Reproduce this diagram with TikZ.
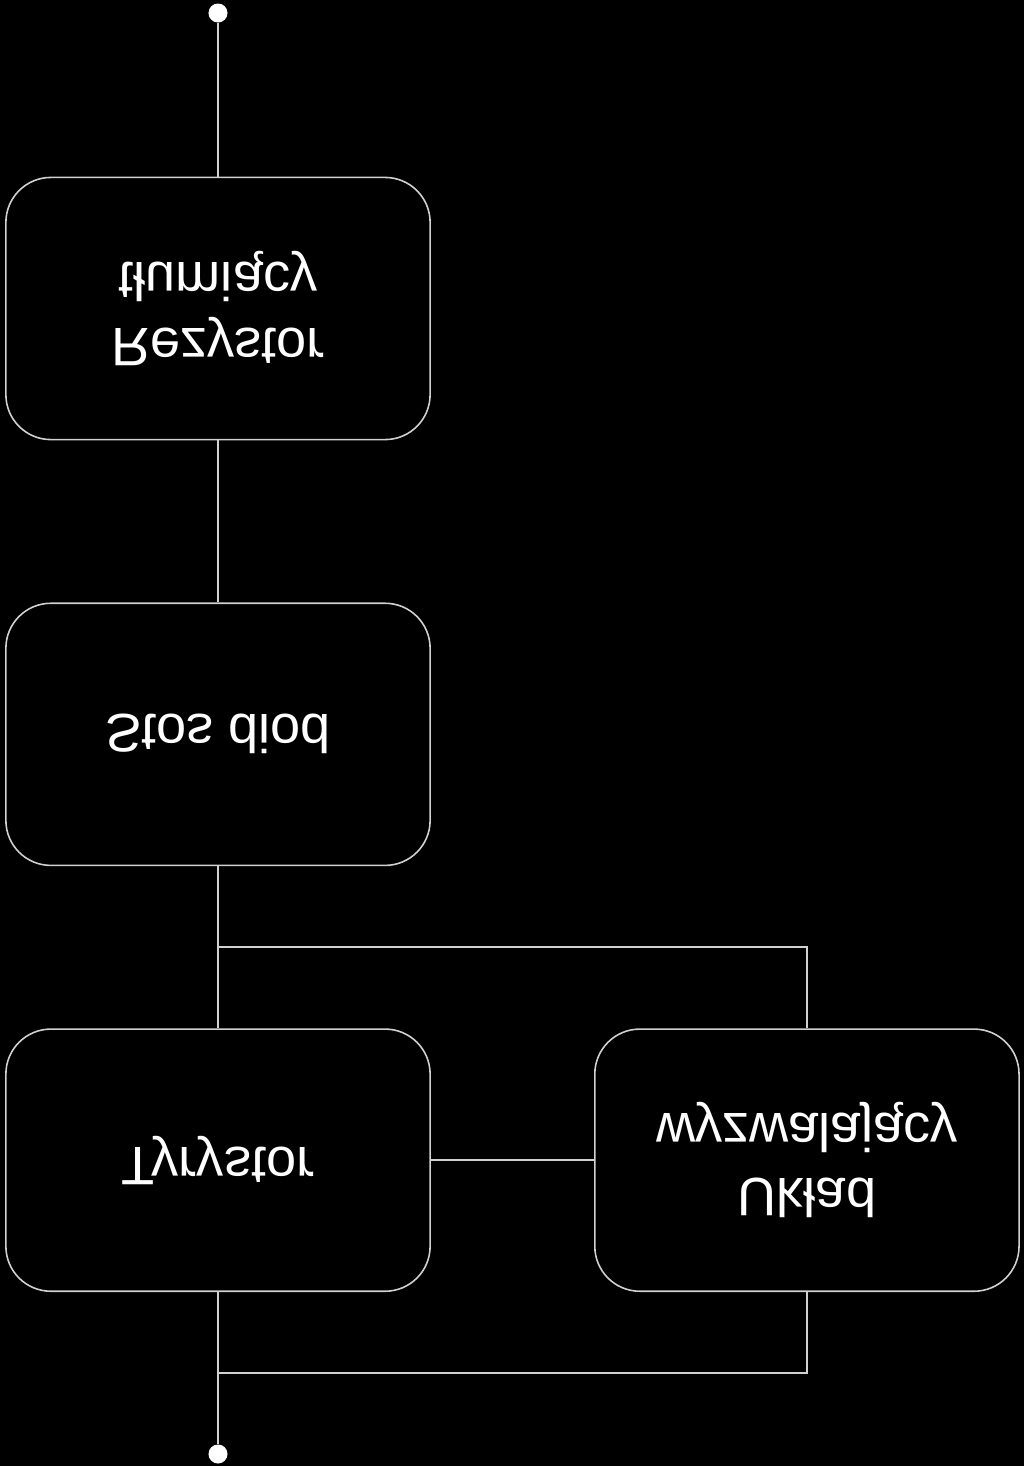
\documentclass[tikz,border=0pt]{standalone}
\usepackage{fontspec}
\setmainfont{Liberation Sans}
\usetikzlibrary{positioning, calc}

\definecolor{linia}{gray}{0.82}

\tikzset{
    blok/.style={draw=linia, line width=0.45pt, rounded corners=0.45cm, minimum width=4.24cm, minimum height=2.62cm},
    napis/.style={text=white, align=center, yscale=-1, font=\fontsize{15.4}{18.5}\selectfont},
    przewod/.style={draw=linia, line width=0.45pt},
    zacisk/.style={circle, fill=white, inner sep=0pt, minimum size=0.19cm}
}

\begin{document}
\begin{tikzpicture}[x=0.01cm, y=-0.01cm]

    % tlo
    \fill[black] (0,0) rectangle (1024,1466);
    \useasboundingbox (0,0) rectangle (1024,1466);

    % 1. bloki glowne (galaz pionowa)
    \node[blok] (rez) at (218,308.5) {};
    \node[blok, below=1.62cm of rez] (stos) {};
    \node[blok, below=1.62cm of stos] (tyr) {};
    % blok wyzwalania obok tyrystora
    \node[blok, right=1.63cm of tyr] (wyzw) {};

    % 2. napisy (odbite w pionie)
    \node[napis] (rez_t)  at (rez)  {Rezystor\\tłumiący};
    \node[napis] (stos_t) at (stos) {Stos diod};
    \node[napis] (tyr_t)  at (tyr)  {Tyrystor};
    \node[napis] (wyzw_t) at (wyzw) {Układ\\wyzwalający};

    % 3. zaciski
    \node[zacisk] (gora) at (218,13) {};
    \node[zacisk] (dol)  at (218,1454) {};

    % 4. polaczenia szeregowe
    \draw[przewod] (gora) -- (rez);
    \draw[przewod] (rez) -- (stos);
    \draw[przewod] (stos) -- (tyr);
    \draw[przewod] (tyr) -- (dol);
    \draw[przewod] (tyr) -- (wyzw);

    % 5. odgalezienia do ukladu wyzwalajacego
    \coordinate (w1) at ($(stos.south)!0.5!(tyr.north)$);
    \coordinate (w2) at ($(tyr.south)!0.5!(dol)$);
    \draw[przewod] (w1) -| (wyzw.north);
    \draw[przewod] (w2) -| (wyzw.south);

\end{tikzpicture}
\end{document}
